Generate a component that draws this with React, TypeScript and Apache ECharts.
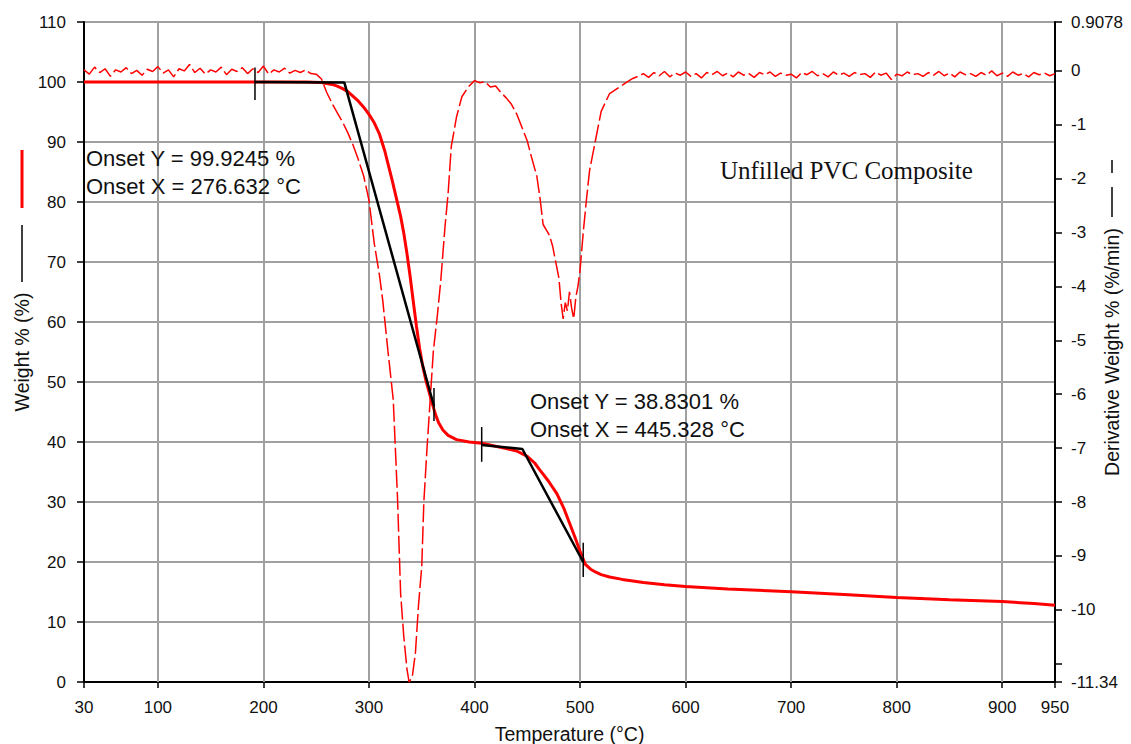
import React, { useEffect, useRef } from "react";
import * as echarts from "echarts";

// ---- Data ----
const xTickLabels = [30, 100, 200, 300, 400, 500, 600, 700, 800, 900, 950];
const xGridLines = [100, 200, 300, 400, 500, 600, 700, 800, 900];
const weightTicks = [0, 10, 20, 30, 40, 50, 60, 70, 80, 90, 100, 110];
const derivTicks = [0.9078, 0, -1, -2, -3, -4, -5, -6, -7, -8, -9, -10, -11, -11.34];
const derivTickLabels = [0.9078, 0, -1, -2, -3, -4, -5, -6, -7, -8, -9, -10, -11.34];

// Weight % vs temperature (°C)
const weightCurve: [number, number][] = [
  [30, 100], [100, 100], [190, 100], [240, 100], [255, 99.9], [265, 99.6], [270, 99.3],
  [275, 98.9], [280, 98.4], [285, 97.6], [290, 96.8], [295, 95.8], [300, 94.6], [305, 93.2],
  [310, 91.3], [315, 88.5], [318, 86.4], [322, 83.6], [326, 80.6], [330, 77.6], [333, 74.8],
  [336, 71.4], [339, 67.6], [342, 63.4], [345, 59.3], [348, 55.6], [351, 52.6], [354, 50.2],
  [357, 48.3], [360, 46.4], [363, 44.6], [366, 43.2], [370, 42], [375, 41.1],
  [383, 40.4], [395, 40], [407, 39.8], [420, 39.3], [430, 38.9], [440, 38.5], [450, 37.6],
  [457, 36.5], [462, 35.3], [470, 33.5], [478, 31.4], [485, 28.8], [490, 26.5], [495, 24.2],
  [500, 21.8], [505, 19.6], [510, 18.8], [515, 18.3], [520, 17.9], [528, 17.5], [540, 17.1],
  [560, 16.6], [580, 16.2], [600, 15.9], [640, 15.5], [700, 15.05], [750, 14.6], [800, 14.1],
  [850, 13.7], [900, 13.4], [930, 13.1], [950, 12.8],
];

// Derivative weight % (%/min) vs temperature (°C)
const derivCurve: [number, number][] = [
  [30, 0.02], [35, -0.06], [40, 0.07], [45, -0.03], [50, 0.04], [55, -0.1], [60, 0.02], [65, -0.02],
  [70, 0.06], [75, -0.05], [80, 0.01], [85, -0.08], [90, 0.03], [95, -0.01], [100, 0.08], [105, -0.04],
  [110, 0.02], [115, -0.11], [120, 0.04], [125, 0.0], [130, 0.12], [135, -0.03], [140, 0.05],
  [145, -0.06], [150, 0.02], [155, -0.02], [160, 0.07], [165, -0.07], [170, 0.03], [175, -0.01],
  [180, 0.06], [185, -0.05], [190, 0.04], [195, -0.03], [200, 0.09], [205, -0.06], [210, 0.02],
  [215, -0.02], [220, 0.05], [225, -0.04], [230, 0.01], [235, -0.03], [240, 0.02], [245, -0.05],
  [250, -0.06], [255, -0.15], [260, -0.4], [265, -0.6], [270, -0.78], [275, -0.95], [280, -1.15],
  [285, -1.38], [290, -1.65], [295, -1.95], [300, -2.4], [305, -3.2], [310, -3.8], [313, -4.25],
  [318, -5.2], [323, -6.1], [327, -7.9], [330, -9.7], [333, -10.5], [336, -11.1], [338, -11.34],
  [341, -11.25], [344, -10.8], [347, -9.9], [350, -9.2], [352, -8.0], [355, -7.0], [358, -6.1],
  [361, -5.2], [365, -4.5], [368, -3.9], [372, -2.9], [375, -2.27], [378, -1.4], [383, -0.85],
  [388, -0.48], [394, -0.3], [400, -0.18], [405, -0.22], [410, -0.2], [415, -0.3], [420, -0.28],
  [425, -0.4], [430, -0.5], [435, -0.62], [440, -0.8], [445, -1.05], [450, -1.3], [454, -1.6],
  [459, -1.95], [462, -2.35], [465, -2.85], [468, -2.95], [471, -3.05], [474, -3.25], [477, -3.55],
  [480, -3.85], [482, -4.3], [484, -4.6], [486, -4.3], [488, -4.45], [490, -4.1], [492, -4.4],
  [494, -4.6], [496, -4.2], [498, -4.0], [500, -3.7], [503, -3.0], [506, -2.4], [509, -1.85],
  [514, -1.35], [520, -0.75], [528, -0.42], [538, -0.29], [545, -0.2], [550, -0.14], [555, -0.1],
  [560, -0.05], [565, -0.12], [570, -0.03], [575, -0.09], [580, -0.01], [585, -0.11], [590, -0.04],
  [595, -0.08], [600, -0.02], [605, -0.1], [610, -0.05], [615, -0.13], [620, -0.03], [625, -0.07],
  [630, -0.01], [635, -0.09], [640, -0.04], [645, -0.11], [650, -0.02], [655, -0.08], [660, -0.05],
  [665, -0.12], [670, -0.03], [675, -0.07], [680, -0.02], [685, -0.1], [690, -0.04], [695, -0.08],
  [700, -0.06], [705, -0.13], [710, -0.03], [715, -0.07], [720, -0.01], [725, -0.09], [730, -0.05],
  [735, -0.11], [740, -0.02], [745, -0.08], [750, -0.04], [755, -0.1], [760, -0.03], [765, -0.07],
  [770, -0.05], [775, -0.12], [780, -0.02], [785, -0.08], [790, -0.04], [795, -0.16], [800, -0.06],
  [805, -0.09], [810, -0.02], [815, -0.07], [820, -0.05], [825, -0.1], [830, -0.03], [835, -0.08],
  [840, -0.01], [845, -0.09], [850, -0.04], [855, -0.11], [860, -0.02], [865, -0.07], [870, -0.05],
  [875, -0.1], [880, -0.03], [885, -0.08], [890, 0.0], [895, -0.09], [900, -0.04], [905, -0.1],
  [910, -0.02], [915, -0.08], [920, -0.05], [925, -0.11], [930, -0.03], [935, -0.07], [940, -0.04],
  [945, -0.09], [950, -0.05],
];

// Onset construction lines (black)
const onsetLine1: [number, number][] = [[192, 100], [276.632, 99.9245], [361.6, 46]];
const onsetLine2: [number, number][] = [[406.8, 39.5], [445.328, 38.8301], [503, 20]];
const onsetMarkers: [number, number, number][] = [
  // [temperature, low, high]
  [192, 97.0, 102.4],
  [361.6, 43.5, 49.0],
  [406.8, 36.7, 42.5],
  [503, 17.5, 23.2],
];

const onsetText1 = ["Onset Y = 99.9245 %", "Onset X = 276.632 °C"];
const onsetText2 = ["Onset Y = 38.8301 %", "Onset X = 445.328 °C"];
const sampleTitle = "Unfilled PVC Composite";

const SANS = "'Liberation Sans', Arial, sans-serif";
const SERIF = "'Liberation Serif', 'Times New Roman', serif";

export default function App() {
  const ref = useRef<HTMLDivElement>(null);

  useEffect(() => {
    if (!ref.current) return;
    const chart = echarts.init(ref.current, undefined, { renderer: "svg" });

    const gridColor = "#a0a0a0";
    const labelStyle = { fontSize: 17, fontFamily: SANS, color: "#111" };
    const nameStyle = { fontSize: 19.5, fontFamily: SANS, color: "#111" };

    const markerSeries = onsetMarkers.map((m, i) => ({
      type: "line",
      name: "marker" + i,
      yAxisIndex: 0,
      data: [[m[0], m[1]], [m[0], m[2]]],
      symbol: "none",
      silent: true,
      lineStyle: { color: "#000", width: 1.5 },
      z: 4,
    }));

    const textEl = (txt: string, x: number, y: number, size: number, font: string) => ({
      type: "text",
      x,
      y,
      silent: true,
      style: { text: txt, fontSize: size, fontFamily: font, fill: "#111", verticalAlign: "middle", align: "left" },
      z: 10,
    });

    chart.setOption({
      animation: false,
      backgroundColor: "#fff",
      grid: { left: 84, top: 22, right: 76, bottom: 62, containLabel: false, outerBoundsMode: "none" },
      xAxis: {
        type: "value",
        min: xTickLabels[0],
        max: xTickLabels[xTickLabels.length - 1],
        name: "Temperature (°C)",
        nameLocation: "middle",
        nameGap: 42,
        nameMoveOverlap: false,
        nameTextStyle: nameStyle,
        axisLine: { show: true, onZero: false, lineStyle: { color: "#000", width: 2 } },
        axisTick: { show: true, length: 6, customValues: xTickLabels, lineStyle: { color: "#000", width: 1.5 } },
        axisLabel: { ...labelStyle, margin: 17, customValues: xTickLabels, showMinLabel: true, showMaxLabel: true },
        splitLine: { show: false },
      },
      yAxis: [
        {
          type: "value",
          min: weightTicks[0],
          max: weightTicks[weightTicks.length - 1],
          interval: 10,
          position: "left",
          name: "Weight % (%)",
          nameLocation: "middle",
          nameRotate: 90,
          nameGap: 52,
          nameMoveOverlap: false,
          nameTextStyle: nameStyle,
          axisLine: { show: true, onZero: false, lineStyle: { color: "#000", width: 2 } },
          axisTick: { show: true, length: 7, lineStyle: { color: "#000", width: 1.5 } },
          axisLabel: { ...labelStyle, margin: 18 },
          splitLine: { show: true, lineStyle: { color: gridColor, width: 2 } },
        },
        {
          type: "value",
          min: derivTicks[derivTicks.length - 1],
          max: derivTicks[0],
          position: "right",
          name: "Derivative Weight % (%/min)",
          nameLocation: "middle",
          nameRotate: 90,
          nameGap: 47,
          nameMoveOverlap: false,
          nameTextStyle: nameStyle,
          axisLine: { show: true, onZero: false, lineStyle: { color: "#000", width: 2 } },
          axisTick: { show: true, length: 7, customValues: derivTicks, lineStyle: { color: "#000", width: 1.5 } },
          axisLabel: {
            ...labelStyle,
            margin: 16,
            customValues: derivTickLabels,
            showMinLabel: true,
            showMaxLabel: true,
            formatter: (v: number) => String(v),
          },
          splitLine: { show: false },
        },
      ],
      series: [
        {
          type: "line",
          name: "grid",
          yAxisIndex: 0,
          data: [],
          symbol: "none",
          silent: true,
          z: 1,
          markLine: {
            silent: true,
            symbol: ["none", "none"],
            label: { show: false },
            z: 1,
            lineStyle: { color: gridColor, width: 2, type: "solid" },
            data: xGridLines.map((v) => ({ xAxis: v })),
          },
        },
        {
          type: "line",
          name: "Derivative Weight",
          yAxisIndex: 1,
          data: derivCurve,
          symbol: "none",
          silent: true,
          lineStyle: { color: "#ff0000", width: 1.5, type: [18, 4] },
          z: 2,
        },
        {
          type: "line",
          name: "Weight",
          yAxisIndex: 0,
          data: weightCurve,
          symbol: "none",
          silent: true,
          lineStyle: { color: "#ff0000", width: 3 },
          z: 3,
        },
        {
          type: "line",
          name: "Onset 1",
          yAxisIndex: 0,
          data: onsetLine1,
          symbol: "none",
          silent: true,
          lineStyle: { color: "#000", width: 2.5 },
          z: 4,
        },
        {
          type: "line",
          name: "Onset 2",
          yAxisIndex: 0,
          data: onsetLine2,
          symbol: "none",
          silent: true,
          lineStyle: { color: "#000", width: 2.5 },
          z: 4,
        },
        ...markerSeries,
      ],
      graphic: [
        // left axis legend glyphs
        { type: "line", shape: { x1: 22, y1: 150, x2: 22, y2: 208 }, style: { stroke: "#ff0000", lineWidth: 3 }, silent: true },
        { type: "line", shape: { x1: 22, y1: 225, x2: 22, y2: 282 }, style: { stroke: "#000", lineWidth: 1.5 }, silent: true },
        // right axis legend glyph (dashed)
        { type: "line", shape: { x1: 1112, y1: 160, x2: 1112, y2: 173 }, style: { stroke: "#000", lineWidth: 1.5 }, silent: true },
        { type: "line", shape: { x1: 1112, y1: 187, x2: 1112, y2: 217 }, style: { stroke: "#000", lineWidth: 1.5 }, silent: true },
        textEl(onsetText1[0], 86, 158, 22, SANS),
        textEl(onsetText1[1], 86, 186, 22, SANS),
        textEl(onsetText2[0], 530, 401, 22, SANS),
        textEl(onsetText2[1], 530, 429, 22, SANS),
        textEl(sampleTitle, 720, 170, 25, SERIF),
      ],
    });

    return () => chart.dispose();
  }, []);

  return (
    <div
      ref={ref}
      style={{ position: "absolute", left: 0, top: 0, width: 1131, height: 744, background: "#fff" }}
    />
  );
}
